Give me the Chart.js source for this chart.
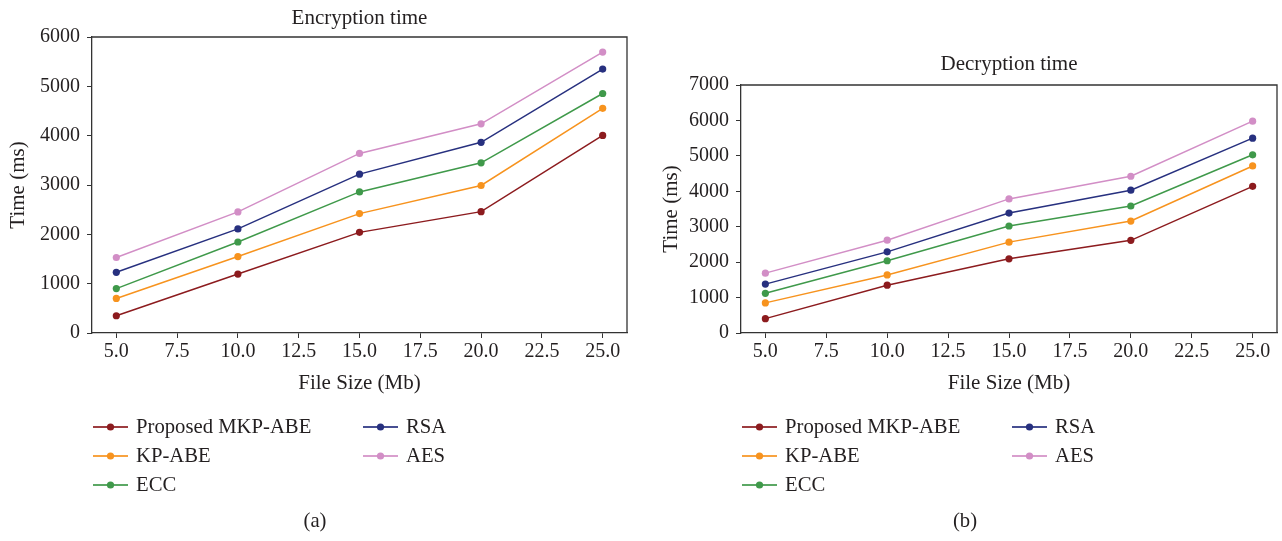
<!DOCTYPE html>
<html>
<head>
<meta charset="utf-8">
<script src="https://cdn.jsdelivr.net/npm/chart.js@4.4.0/dist/chart.umd.min.js"></script>
<style>
    html, body { margin: 0; padding: 0; background: #fff; }
    #wrap { position: relative; width: 1282px; height: 541px; }
    .panel { position: absolute; top: 0; width: 641px; height: 541px; }
</style>
</head>
<body>
<div id="wrap">
    <div class="panel" style="left:0"><canvas id="encChart" width="641" height="541"></canvas></div>
    <div class="panel" style="left:641px"><canvas id="decChart" width="641" height="541"></canvas></div>
</div>
<script>
// file sizes (Mb) on the x axis
const fileSizes = [5, 10, 15, 20, 25];
const xTicks = [5, 7.5, 10, 12.5, 15, 17.5, 20, 22.5, 25];
const encYTicks = [0, 1000, 2000, 3000, 4000, 5000, 6000];
const decYTicks = [0, 1000, 2000, 3000, 4000, 5000, 6000, 7000];

const seriesNames = ["Proposed MKP-ABE", "KP-ABE", "ECC", "RSA", "AES"];

// encryption time (ms)
const encProposed = [350, 1195, 2040, 2460, 4005];
const encKpAbe = [700, 1550, 2420, 2990, 4555];
const encEcc = [900, 1845, 2860, 3450, 4855];
const encRsa = [1230, 2110, 3220, 3865, 5350];
const encAes = [1530, 2455, 3640, 4240, 5695];

// decryption time (ms)
const decProposed = [405, 1350, 2095, 2615, 4140];
const decKpAbe = [850, 1640, 2565, 3160, 4715];
const decEcc = [1120, 2040, 3020, 3585, 5030];
const decRsa = [1380, 2290, 3385, 4030, 5500];
const decAes = [1690, 2620, 3785, 4425, 5980];

const colors = ["#8c1b1e", "#f7931e", "#3f994a", "#27307f", "#d28ec6"];
const FONT = "'Liberation Serif', 'Times New Roman', serif";
const INK = "#231f20";

// frame on top/right, legend in two columns and the (a)/(b) caption
const extrasPlugin = {
    id: "extras",
    afterDraw(chart, args, opts) {
        const ctx = chart.ctx;
        const a = chart.chartArea;
        ctx.save();
        ctx.strokeStyle = "#333";
        ctx.lineWidth = 1.3;
        ctx.beginPath();
        ctx.moveTo(a.left, a.top);
        ctx.lineTo(a.right, a.top);
        ctx.lineTo(a.right, a.bottom);
        ctx.stroke();

        ctx.font = `20.7px ${FONT}`;
        ctx.textBaseline = "middle";
        ctx.textAlign = "left";
        chart.data.datasets.forEach((ds, i) => {
            const col = Math.floor(i / 3), row = i % 3;
            const x = opts.cols[col];
            const y = opts.rows[row];
            ctx.globalAlpha = 0.85;
            ctx.strokeStyle = ds.borderColor;
            ctx.lineWidth = 2;
            ctx.beginPath();
            ctx.moveTo(x, y);
            ctx.lineTo(x + 35, y);
            ctx.stroke();
            ctx.globalAlpha = 1;
            ctx.fillStyle = ds.borderColor;
            ctx.beginPath();
            ctx.arc(x + 17.5, y, 3.6, 0, Math.PI * 2);
            ctx.fill();
            ctx.fillStyle = INK;
            ctx.fillText(ds.label, x + 43, y + 1);
        });

        ctx.textAlign = "center";
        ctx.fillStyle = INK;
        ctx.fillText(opts.caption, opts.captionX, 522);
        ctx.restore();
    }
};

function mkLineChart(canvasId, title, series, yTicks, geo) {
    const ctx = document.getElementById(canvasId);
    return new Chart(ctx, {
        type: "line",
        data: {
            datasets: series.map((vals, i) => ({
                label: seriesNames[i],
                data: vals.map((v, j) => ({ x: fileSizes[j], y: v })),
                borderColor: colors[i],
                backgroundColor: colors[i],
                pointBackgroundColor: colors[i],
                borderWidth: 1.5,
                pointRadius: 3.6,
                pointBorderWidth: 0,
                pointHoverRadius: 3.6,
                tension: 0
            }))
        },
        options: {
            responsive: false,
            animation: false,
            devicePixelRatio: 1,
            layout: { padding: { left: 0, top: 0, right: geo.right, bottom: 145 } },
            plugins: {
                legend: { display: false },
                tooltip: { enabled: false },
                title: {
                    display: true,
                    text: title,
                    fullSize: false,
                    color: INK,
                    font: { family: FONT, size: 21, weight: "normal" },
                    padding: { top: geo.titleTop, bottom: geo.titleBottom }
                },
                extras: { cols: geo.cols, rows: [427, 456, 485], caption: geo.caption, captionX: geo.captionX }
            },
            scales: {
                x: {
                    type: "linear",
                    min: 4,
                    max: 26,
                    afterBuildTicks: (s) => { s.ticks = xTicks.map(v => ({ value: v })); },
                    afterFit: (s) => { s.height = 63; },
                    border: { display: true, color: "#333", width: 1.3 },
                    grid: { display: true, drawOnChartArea: false, drawTicks: true, tickLength: 5, color: "#333" },
                    ticks: {
                        padding: 2,
                        color: INK,
                        font: { family: FONT, size: 20 },
                        callback: (v) => v.toFixed(1)
                    },
                    title: {
                        display: true,
                        text: "File Size (Mb)",
                        color: INK,
                        font: { family: FONT, size: 21 },
                        padding: { top: 0, bottom: 0 }
                    }
                },
                y: {
                    min: yTicks[0],
                    max: yTicks[yTicks.length - 1],
                    afterBuildTicks: (s) => { s.ticks = yTicks.map(v => ({ value: v })); },
                    afterFit: (s) => { s.width = geo.left; },
                    border: { display: true, color: "#333", width: 1.3 },
                    grid: { display: true, drawOnChartArea: false, drawTicks: true, tickLength: 5, color: "#333" },
                    ticks: {
                        padding: 7,
                        color: INK,
                        font: { family: FONT, size: 20 },
                        callback: (v) => String(v)
                    },
                    title: {
                        display: true,
                        text: "Time (ms)",
                        color: INK,
                        font: { family: FONT, size: 21 },
                        padding: { top: geo.yTitlePad, bottom: 0 }
                    }
                }
            }
        },
        plugins: [extrasPlugin]
    });
}

const encChart = mkLineChart("encChart", "Encryption time",
    [encProposed, encKpAbe, encEcc, encRsa, encAes], encYTicks,
    { left: 92, right: 14, titleTop: 5.4, titleBottom: 6.4, yTitlePad: 6,
      cols: [93, 363], caption: "(a)", captionX: 315 });

const decChart = mkLineChart("decChart", "Decryption time",
    [decProposed, decKpAbe, decEcc, decRsa, decAes], decYTicks,
    { left: 100, right: 5, titleTop: 51.4, titleBottom: 8.4, yTitlePad: 18,
      cols: [101, 371], caption: "(b)", captionX: 324 });
</script>
</body>
</html>
